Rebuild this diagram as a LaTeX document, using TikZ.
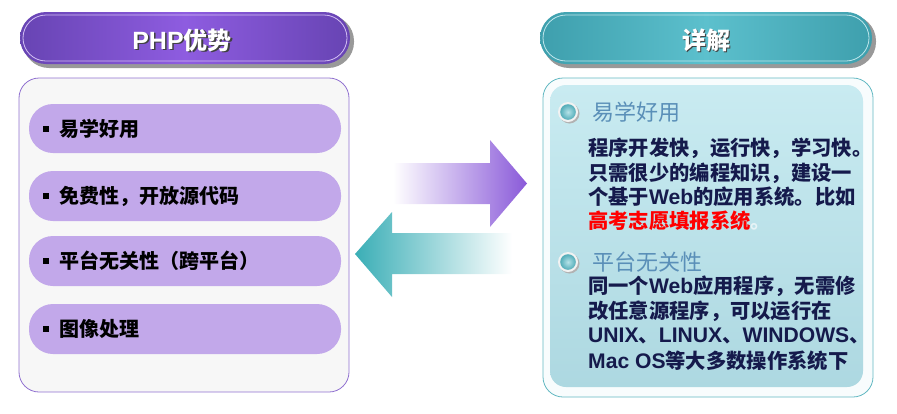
\documentclass[tikz,border=0pt]{standalone}
\usepackage{fontspec}
\setmainfont{Liberation Sans}
\newfontfamily\cjk{Noto Sans CJK SC}
\newfontfamily\lat{Liberation Sans}[Scale=1.04]
\newcommand\lw[1]{{\lat\fontseries{bx}\selectfont #1}}
\definecolor{purpD}{HTML}{6744B3}
\definecolor{purpL}{HTML}{8E5CE0}
\definecolor{purpBorder}{HTML}{9070D0}
\definecolor{itemFill}{HTML}{C2A8EA}
\definecolor{tealD}{HTML}{3E9FAD}
\definecolor{tealL}{HTML}{5CC0CD}
\definecolor{tealBorder}{HTML}{62B8C2}
\definecolor{panelTop}{HTML}{C9EBF1}
\definecolor{panelBot}{HTML}{ADD8E1}
\definecolor{bodyText}{HTML}{151A4C}
\definecolor{headText}{HTML}{5A8FB8}
\definecolor{arrPurp}{HTML}{8A5AD9}
\definecolor{arrTeal}{HTML}{3AAEB6}
\tikzset{
  pillshadow/.style={fill=black!40, rounded corners=26pt},
  itempill/.style={fill=itemFill, rounded corners=24pt, draw=none},
  itemtext/.style={anchor=west, font=\cjk\bfseries\fontsize{20}{22}\selectfont, text=black, inner sep=0pt},
  bodyline/.style={anchor=west, font=\cjk\bfseries\fontsize{20.3}{22}\selectfont, text=bodyText, inner sep=0pt},
  headline/.style={anchor=west, font=\cjk\fontsize{22}{24}\selectfont, text=headText, inner sep=0pt},
  titletext/.style={font=\cjk\bfseries\fontsize{24}{26}\selectfont, text=white, inner sep=0pt},
  titleshadow/.style={font=\cjk\bfseries\fontsize{24}{26}\selectfont, text=black!75, inner sep=0pt},
}
\begin{document}
\begin{tikzpicture}[x=1pt,y=-1pt]
\useasboundingbox (0,0) rectangle (897,413);
% ---------- left header ----------
\fill[pillshadow] (23,15) rectangle (354,68);
\shade[left color=purpD, right color=purpD, middle color=purpL, rounded corners=26pt] (20,12) rectangle (350,64);
\draw[white!60!purpL, line width=0.8pt, rounded corners=23pt] (23,15) rectangle (347,61);
\node[titleshadow] (lhs) at (183.5,41.5) {\lw{PHP}优势};
\node[titletext] (lh) at (182,40) {\lw{PHP}优势};
% ---------- left box ----------
\draw[draw=purpBorder, fill=black!3, line width=0.8pt, rounded corners=20pt] (19,78) rectangle (349,392);
\foreach \yt/\yb/\nm in {104/153/i1, 171/221/i2, 236/286/i3, 304/354/i4}{
  \fill[itempill] (29,\yt) rectangle (341,\yb);
  \fill[black] (43,{(\yt+\yb)/2-3}) rectangle (49,{(\yt+\yb)/2+3});
}
\node[itemtext] (t1) at (59,129) {易学好用};
\node[itemtext] (t2) at (59,196) {免费性，开放源代码};
\node[itemtext] (t3) at (59,261) {平台无关性（跨平台）};
\node[itemtext] (t4) at (59,329) {图像处理};
% ---------- arrows ----------
\shade[left color=white, right color=arrPurp]
  (393,163) -- (490,163) -- (490,140) -- (527,183.5) -- (490,227) -- (490,204) -- (393,204) -- cycle;
\shade[left color=arrTeal, right color=white]
  (512,233) -- (392,233) -- (392,212) -- (355,254) -- (392,297) -- (392,274) -- (512,274) -- cycle;
% ---------- right header ----------
\fill[pillshadow] (543,15) rectangle (876,68);
\shade[left color=tealD, right color=tealD, middle color=tealL, rounded corners=26pt] (540,12) rectangle (872,64);
\draw[white!60!tealL, line width=0.8pt, rounded corners=23pt] (543,15) rectangle (869,61);
\node[titleshadow] (rhs) at (707.5,41.5) {详解};
\node[titletext] (rh) at (706,40) {详解};
% ---------- right box ----------
\draw[draw=tealBorder, fill=white!96!tealL, line width=0.8pt, rounded corners=20pt] (543,78) rectangle (873,397);
\shade[top color=panelTop, bottom color=panelBot, rounded corners=16pt] (550,85) rectangle (863,387);
% bullets
\foreach \cy/\nm in {112/b1, 262/b2}{
  \fill[black!30] (569.5,\cy+1.5) circle (10);
  \fill[white!95!black] (568,\cy) circle (10);
  \shade[inner color=tealL!45!white, outer color=tealL!90!black] (568,\cy) circle (7.8);
}
\node[headline] (h1) at (592,112) {易学好用};
\node[bodyline] (l1) at (588,148) {程序开发快，运行快，学习快。};
\node[bodyline] (l2) at (588,173) {只需很少的编程知识，建设一};
\node[bodyline] (l3) at (588,197) {个基于\lw{Web}的应用系统。比如};
\node[bodyline, text=red] (l4) at (588,221) {高考志愿填报系统\textcolor{white!70!panelBot}{。}};
\node[headline] (h2) at (592,262) {平台无关性};
\node[bodyline] (m1) at (588,286) {同一个\lw{Web}应用程序，无需修};
\node[bodyline] (m2) at (588,311) {改任意源程序，可以运行在};
\node[bodyline] (m3) at (588,336) {\lw{UNIX}、\lw{LINUX}、\lw{WINDOWS}、};
\node[bodyline] (m4) at (588,361) {\lw{Mac OS}等大多数操作系统下};
\end{tikzpicture}
\end{document}
